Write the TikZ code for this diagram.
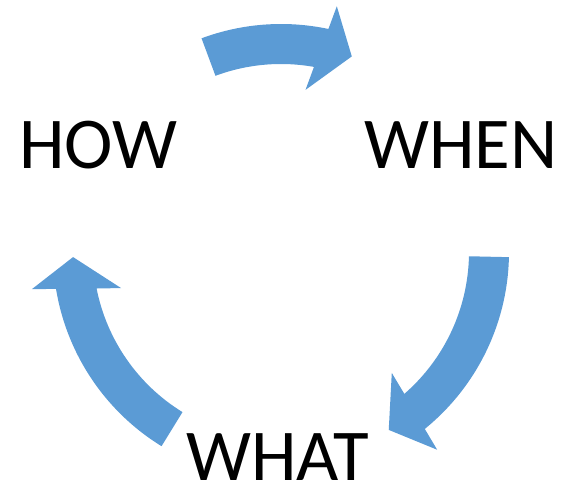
\documentclass[tikz,border=0pt]{standalone}
\usepackage{fontspec}
\setmainfont{Carlito}
\definecolor{cycblue}{HTML}{5B9BD5}
\tikzset{cyclearrow/.style={fill=cycblue},word/.style={anchor=base,inner sep=0pt,font=\fontsize{36.5}{40}\selectfont}}
\begin{document}
\begin{tikzpicture}[x=0.5pt,y=0.5pt]
        \useasboundingbox (0,0) rectangle (563,487);
        \coordinate (c) at (281,235);
        \foreach \t/\a in {110.4/78,-1.3/-50.9,238.4/189.3} \fill[cyclearrow,shift={(c)}] (\t:228) arc[start angle=\t,end angle=\a,radius=228] -- ({\a-0.8}:252) -- ({\a-7.9}:208) -- ({\a+3.4}:164) -- ({\a+1.9}:188) arc[start angle={\a+1.9},end angle=\t,radius=188] -- cycle;
        \node[word](how)at(98.5,318){HOW};
        \node[word](when)at(460.7,318){WHEN};
        \node[word](what)at(277.5,6){WHAT};
    \end{tikzpicture}
\end{document}
